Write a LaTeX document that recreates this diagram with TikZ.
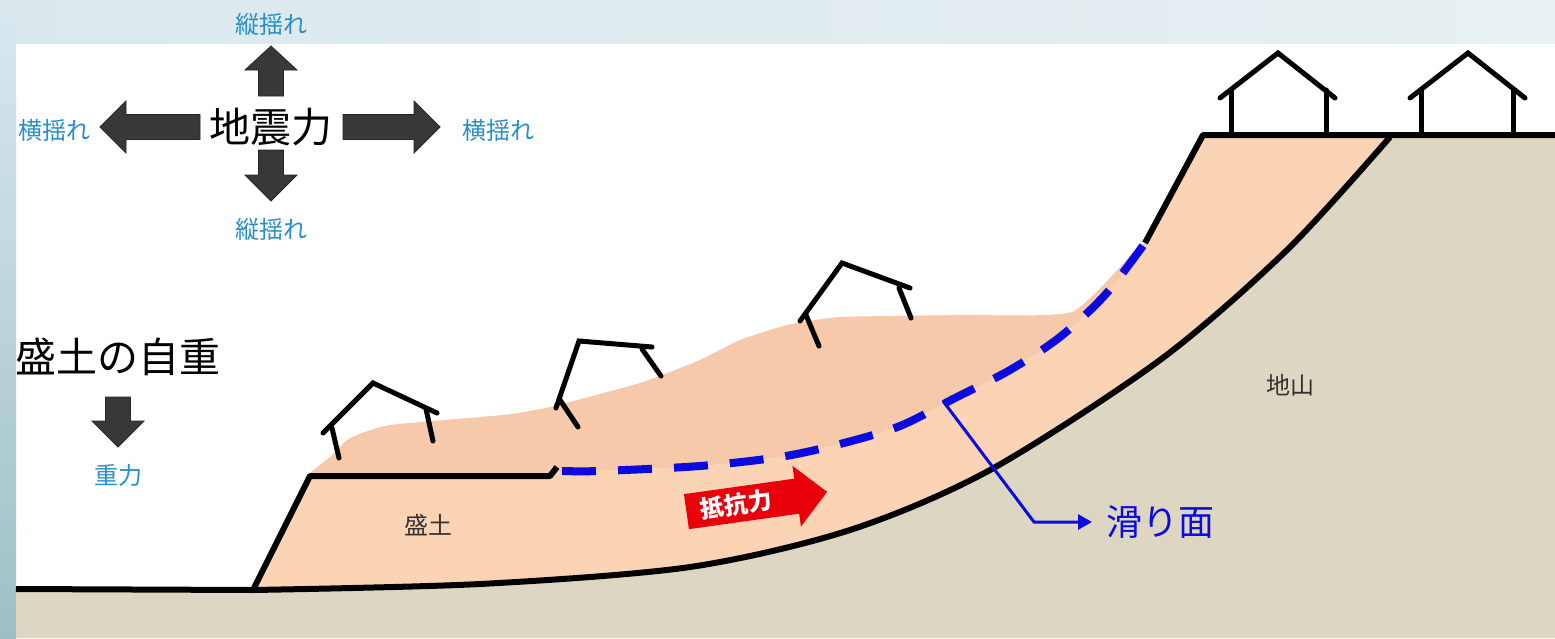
\documentclass[tikz,border=0pt]{standalone}
\usepackage{fontspec}
\newfontfamily\jp{Noto Sans CJK JP}
\usetikzlibrary{arrows.meta, shapes.arrows}
\definecolor{sky}{HTML}{2A8FC6}
\definecolor{fillsoil}{HTML}{FBD3B5}
\definecolor{slidsoil}{HTML}{F6C9AB}
\definecolor{bedrock}{HTML}{DDD6C2}
\definecolor{slipblue}{HTML}{0B0BE0}
\definecolor{arrowgray}{HTML}{383838}
\definecolor{resist}{HTML}{E8000B}
\definecolor{frameL}{HTML}{DAE8EE}
\definecolor{frameR}{HTML}{E8F0F3}

\begin{document}
\begin{tikzpicture}[x=1pt, y=-1pt,
  outline/.style={line width=6pt, line join=round},
  house/.style={line width=5pt, line cap=round, line join=miter},
  quake/.style={fill=arrowgray, draw=black!85, line width=0.8pt},
  sway/.style={font=\jp\fontsize{24}{28}\selectfont, text=sky},
  big/.style={font=\jp\fontsize{41}{46}\selectfont},
  soil/.style={font=\jp\fontsize{24}{28}\selectfont, text=black!80},
  slip/.style={slipblue, line width=8pt, dash pattern=on 34pt off 22pt},
]
\useasboundingbox (0,0) rectangle (1555,638);
\fill[white] (0,0) rectangle (1555,638);
\shade[left color=frameL, right color=frameR] (0,0) rectangle (1555,43);
\shade[top color=frameL, bottom color=frameL!80!cyan!60!gray] (0,0) rectangle (16,638);

% ground (地山)
\fill[bedrock] (16,589) -- plot[smooth] coordinates {(253,590) (480,584) (690,567) (850,530)
  (990,470) (1160,360) (1287,250) (1390,137)}
  -- (1390,135) -- (1555,135) -- (1555,638) -- (16,638) -- cycle;

% embankment (盛土)
\fill[fillsoil] (253,590) -- (310,476) -- (550,476) -- (557,467)
  -- plot[smooth] coordinates {(557,471) (600,471) (700,466) (780,457) (840,444) (900,426)
  (955,398) (1010,370) (1060,337) (1105,295) (1145,243)}
  -- (1203,135) -- (1390,135)
  -- plot[smooth] coordinates {(1390,137) (1287,250) (1160,360) (990,470) (850,530)
  (690,567) (480,584) (253,590)} -- cycle;

% displaced soil above the slip surface
\fill[slidsoil] (306,476) -- (550,476) -- (557,467)
  -- plot[smooth] coordinates {(557,471) (600,471) (700,466) (780,457) (840,444) (900,426)
  (955,398) (1010,370) (1060,337) (1105,295) (1145,243)}
  -- plot[smooth, tension=0.3] coordinates {(1136,249) (1072,312) (960,315) (840,317) (787,325)
  (740,340) (700,360) (640,383) (550,407) (503,415) (390,425) (350,438) (330,457) (306,476)}
  -- cycle;

% outlines
\draw[outline] (16,589) -- plot[smooth] coordinates {(253,590) (480,584) (690,567) (850,530)
  (990,470) (1160,360) (1287,250) (1390,137)};
\draw[outline] (253,590) -- (310,476) -- (550,476) -- (557,467);
\draw[outline] (1145,243) -- (1203,135) -- (1555,135);

% slip surface
\draw[slip] plot[smooth] coordinates {(562,471) (600,471) (700,466) (780,457) (840,444) (900,426)
  (955,398) (1010,370) (1060,337) (1105,295) (1145,243)};

% houses on top
\draw[house] (1220,98) -- (1278,53) -- (1335,98);
\draw[house] (1231,90) -- (1231,133) (1326,90) -- (1326,133);
\draw[house] (1410,98) -- (1468,53) -- (1525,98);
\draw[house] (1421,90) -- (1421,133) (1513,90) -- (1513,133);

% houses carried by the sliding soil
\draw[house] (323,433) -- (373,383) -- (437,413);
\draw[house] (332,428) -- (339,458) (426,409) -- (433,441);
\draw[house] (556,408) -- (579,341) -- (652,347);
\draw[house] (560,400) -- (578,427) (642,349) -- (661,376);
\draw[house] (800,321) -- (842,263) -- (910,288);
\draw[house] (806,315) -- (819,346) (899,288) -- (911,318);

% seismic force arrows
\filldraw[quake] (258.5,96) -- (258.5,70) -- (245,70) -- (271,46) -- (297,70) -- (283.5,70) -- (283.5,96) -- cycle;
\filldraw[quake] (258.5,150) -- (283.5,150) -- (283.5,175) -- (297,175) -- (271,201) -- (245,175) -- (258.5,175) -- cycle;
\filldraw[quake] (200,114.5) -- (126,114.5) -- (126,101) -- (100,127) -- (126,153) -- (126,139.5) -- (200,139.5) -- cycle;
\filldraw[quake] (343,114.5) -- (414,114.5) -- (414,101) -- (440,127) -- (414,153) -- (414,139.5) -- (343,139.5) -- cycle;
% gravity arrow
\filldraw[quake] (105.5,397) -- (130.5,397) -- (130.5,421) -- (144,421) -- (118,447) -- (92,421) -- (105.5,421) -- cycle;

\node[big] (quakeforce) at (271,127) {地震力};
\node[sway] (vtop) at (271,24) {縦揺れ};
\node[sway] (vbot) at (271,229) {縦揺れ};
\node[sway] (hleft) at (54,130) {横揺れ};
\node[sway] (hright) at (498,130) {横揺れ};
\node[big] (selfweight) at (118,357) {盛土の自重};
\node[sway] (gravity) at (118,475) {重力};

\node[soil] (fillname) at (428,525) {盛土};
\node[soil] (groundname) at (1290,385) {地山};

% resisting force
\node[single arrow, fill=resist, text=white, rotate=8, minimum height=142pt,
      single arrow head extend=13pt, inner xsep=4pt, inner ysep=6pt,
      font=\jp\bfseries\fontsize{24}{26}\selectfont] (resistforce) at (748,503) {抵抗力\hspace{24pt}\mbox{}};

% slip surface label
\coordinate (sliptick) at (943,401);
\node[font=\jp\fontsize{36}{40}\selectfont, text=slipblue, anchor=west, inner xsep=14pt] (slipname) at (1092,522) {滑り面};
\draw[slipblue, line width=3pt, -{Triangle[length=14pt, width=15pt]}] (sliptick) -- (1034,522) -- (slipname.west);
\end{tikzpicture}
\end{document}
